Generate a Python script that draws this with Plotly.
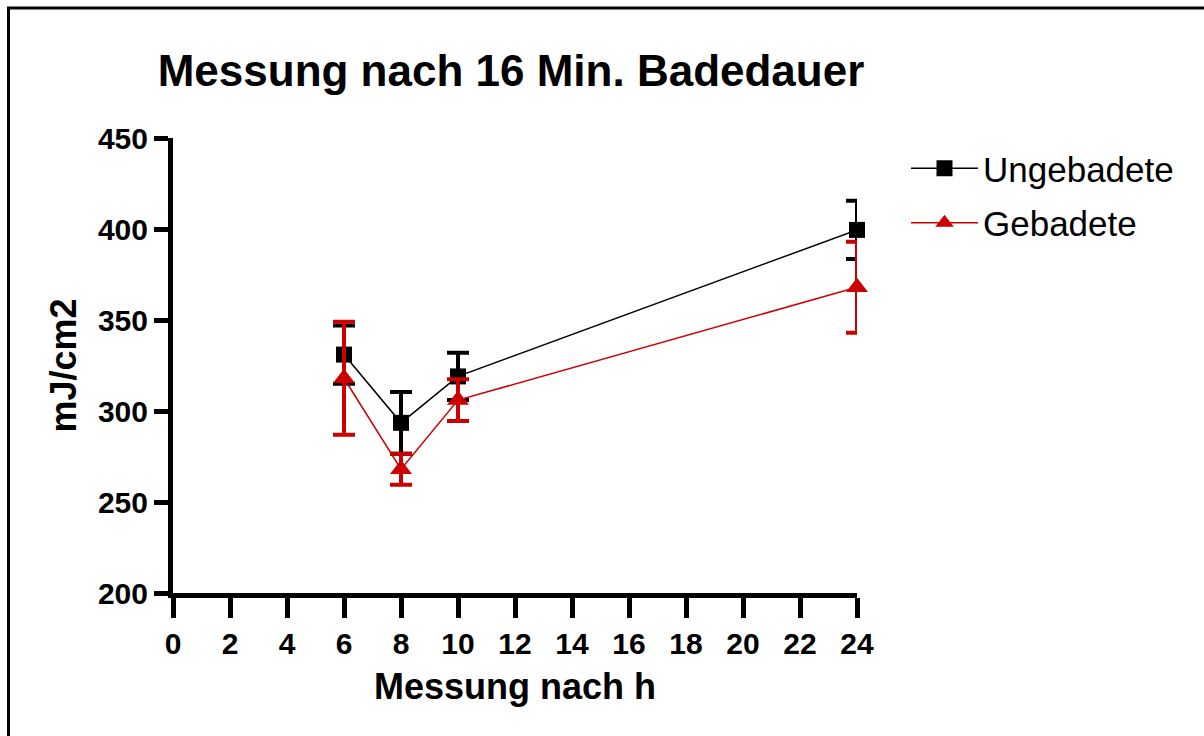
import plotly.graph_objects as go

hours = [6, 8, 10, 24]
ungebadete = [331, 293.5, 319, 399.5]
ungebadete_err = [16, 17, 13, 16]
gebadete = [318, 268, 306, 368]
gebadete_err = [31, 8.5, 11.5, 25]

x_ticks = list(range(0, 25, 2))
y_ticks = [200, 250, 300, 350, 400, 450]

RED = "#CC0000"
FONT = "Liberation Sans, Arial, sans-serif"

W, H = 1204, 736
L, R, T, B = 173, 347, 138, 143
pw, ph = W - L - R, H - T - B

def px_x(p):
    return (p - L) / pw

def px_y(p):
    return (H - B - p) / ph

fig = go.Figure()
fig.add_trace(go.Scatter(
    x=hours, y=ungebadete, name="Ungebadete", mode="lines+markers",
    legendgroup="a", cliponaxis=False,
    line=dict(color="black", width=1.5),
    marker=dict(symbol="square", size=16, color="black"),
    error_y=dict(type="data", array=ungebadete_err, visible=True,
                 color="black", thickness=4, width=11),
))
fig.add_trace(go.Scatter(
    x=hours, y=gebadete, name="Gebadete", mode="lines+markers",
    legendgroup="b", cliponaxis=False,
    line=dict(color=RED, width=1.5),
    marker=dict(symbol="triangle-up", size=19, color=RED),
    error_y=dict(type="data", array=gebadete_err, visible=True,
                 color=RED, thickness=4, width=11),
))

fig.update_layout(
    width=W, height=H,
    margin=dict(l=L, r=R, t=T, b=B),
    paper_bgcolor="white", plot_bgcolor="white",
    font=dict(family=FONT, color="black"),
    title=dict(text="Messung nach 16 Min. Badedauer",
               font=dict(size=44, family=FONT, weight="bold"),
               x=px_x(511), xref="paper", xanchor="center",
               y=1 - 71 / H, yref="container", yanchor="middle"),
    showlegend=True,
    legend=dict(x=px_x(906), y=px_y(139), xanchor="left", yanchor="top",
                font=dict(size=35, family=FONT),
                traceorder="grouped", tracegroupgap=6,
                itemwidth=67, bgcolor="rgba(0,0,0,0)"),
    xaxis=dict(range=[0, 24], tickvals=x_ticks, ticktext=[str(v) for v in x_ticks],
               showline=True, linewidth=5, linecolor="black",
               ticks="outside", ticklen=20, tickwidth=5, tickcolor="black",
               showgrid=False, zeroline=False,
               tickfont=dict(size=30, family=FONT, weight="bold"),
               title=dict(text="Messung nach h", standoff=16,
                          font=dict(size=36, family=FONT, weight="bold"))),
    yaxis=dict(range=[200, 450], tickvals=y_ticks,
               showline=True, linewidth=5, linecolor="black",
               ticks="outside", ticklen=14, tickwidth=5, tickcolor="black",
               showgrid=False, zeroline=False,
               tickfont=dict(size=30, family=FONT, weight="bold"),
               title=dict(text="mJ/cm2", standoff=12,
                          font=dict(size=36, family=FONT, weight="bold"))),
    shapes=[
        dict(type="line", xref="paper", yref="paper",
             x0=px_x(7), x1=px_x(W + 5), y0=px_y(8), y1=px_y(8),
             line=dict(color="black", width=3)),
        dict(type="line", xref="paper", yref="paper",
             x0=px_x(8.5), x1=px_x(8.5), y0=px_y(7), y1=px_y(H + 5),
             line=dict(color="black", width=3)),
    ],
)

fig.write_html("out.html")
